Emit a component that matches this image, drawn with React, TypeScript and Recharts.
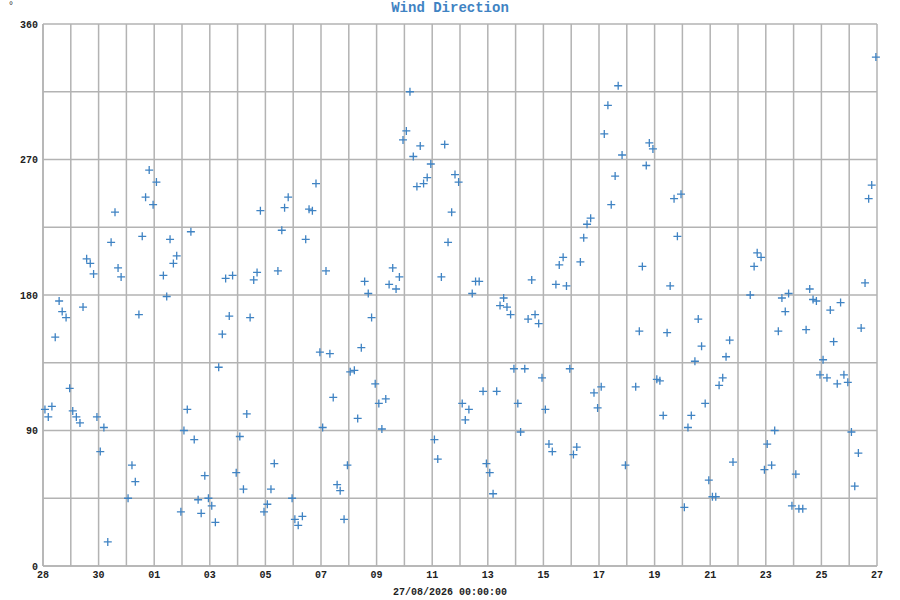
import { CartesianGrid, Scatter, ScatterChart, XAxis, YAxis } from 'recharts'

// days since 28/07 00:00 (roughly every 3 hours)
const dayOffsets = [
  0.07, 0.19, 0.32, 0.44, 0.58, 0.69, 0.83, 0.96, 1.07, 1.2,
  1.33, 1.44, 1.57, 1.7, 1.82, 1.94, 2.06, 2.19, 2.33, 2.45,
  2.59, 2.7, 2.81, 3.06, 3.2, 3.32, 3.45, 3.57, 3.69, 3.82,
  3.96, 4.08, 4.33, 4.45, 4.57, 4.69, 4.81, 4.96, 5.07, 5.19,
  5.32, 5.44, 5.58, 5.69, 5.82, 5.95, 6.07, 6.2, 6.32, 6.45,
  6.57, 6.7, 6.82, 6.95, 7.08, 7.21, 7.33, 7.45, 7.58, 7.7,
  7.82, 7.95, 8.07, 8.2, 8.32, 8.45, 8.59, 8.69, 8.82, 8.96,
  9.06, 9.18, 9.33, 9.45, 9.57, 9.69, 9.82, 9.96, 10.06, 10.18,
  10.32, 10.44, 10.58, 10.69, 10.83, 10.95, 11.05, 11.2, 11.32, 11.45,
  11.57, 11.7, 11.82, 11.95, 12.08, 12.19, 12.33, 12.45, 12.58, 12.7,
  12.82, 12.95, 13.07, 13.2, 13.32, 13.45, 13.57, 13.69, 13.82, 13.95,
  14.08, 14.2, 14.33, 14.45, 14.57, 14.7, 14.82, 14.95, 15.08, 15.19,
  15.32, 15.44, 15.56, 15.69, 15.83, 15.95, 16.07, 16.19, 16.32, 16.44,
  16.57, 16.69, 16.82, 16.94, 17.08, 17.18, 17.33, 17.45, 17.58, 17.7,
  17.83, 17.95, 18.07, 18.2, 18.32, 18.45, 18.57, 18.71, 18.83, 18.95,
  19.08, 19.2, 19.33, 19.45, 19.57, 19.7, 19.82, 19.95, 20.08, 20.19,
  20.32, 20.44, 20.58, 20.69, 20.83, 20.95, 21.32, 21.45, 21.56, 21.7,
  21.81, 21.94, 22.08, 22.19, 22.31, 22.45, 22.56, 22.7, 22.82, 22.95,
  23.07, 23.2, 23.32, 23.45, 23.57, 23.69, 23.82, 23.95, 24.08, 24.2,
  24.32, 24.45, 24.57, 24.7, 24.82, 25.44, 25.58, 25.69, 25.83, 25.95,
  26.05, 26.21, 26.32, 26.45, 26.58, 26.7, 26.82, 26.94, 27.08, 27.19,
  27.33, 27.45, 27.58, 27.7, 27.82, 27.95, 28.06, 28.2, 28.32, 28.44,
  28.57, 28.69, 28.81, 28.95, 29.08, 29.2, 29.33, 29.43, 29.57, 29.7,
  29.81, 29.96,
]

// wind direction in degrees
const directions = [
  104, 99, 106, 152, 176, 169, 165, 118, 103, 99,
  95, 172, 204, 201, 194, 99, 76, 92, 16, 215,
  235, 198, 192, 45, 67, 56, 167, 219, 245, 263,
  240, 255, 193, 179, 217, 201, 206, 36, 90, 104,
  222, 84, 44, 35, 60, 45, 40, 29, 132, 154,
  191, 166, 193, 62, 86, 51, 101, 165, 190, 195,
  236, 36, 41, 51, 68, 196, 223, 238, 245, 45,
  31, 27, 33, 217, 237, 236, 254, 142, 92, 196,
  141, 112, 54, 50, 31, 67, 129, 130, 98, 145,
  189, 181, 165, 121, 108, 91, 111, 187, 198, 184,
  192, 283, 289, 315, 272, 252, 279, 254, 258, 267,
  84, 71, 192, 280, 215, 235, 260, 255, 108, 97,
  104, 181, 189, 189, 116, 68, 62, 48, 116, 173,
  178, 172, 167, 131, 108, 89, 131, 164, 190, 167,
  161, 125, 104, 81, 76, 187, 200, 205, 186, 131,
  74, 79, 202, 218, 227, 231, 115, 105, 119, 287,
  306, 240, 259, 319, 273, 67, 119, 156, 199, 266,
  281, 277, 124, 123, 100, 155, 186, 244, 219, 247,
  39, 92, 100, 136, 164, 146, 108, 57, 46, 46,
  120, 125, 139, 150, 69, 180, 199, 208, 205, 64,
  81, 67, 90, 156, 178, 169, 181, 40, 61, 38,
  38, 157, 184, 177, 176, 127, 137, 125, 170, 149,
  121, 175, 127, 122, 89, 53, 75, 158, 188, 244,
  253, 338,
]

const dayLabels = [
  '28', '29', '30', '31', '01', '02', '03', '04', '05', '06', '07',
  '08', '09', '10', '11', '12', '13', '14', '15', '16', '17', '18',
  '19', '20', '21', '22', '23', '24', '25', '26', '27',
]
const directionTicks = [0, 45, 90, 135, 180, 225, 270, 315, 360]
const labelledDirections = [0, 90, 180, 270, 360]

const points = dayOffsets.map((day, i) => ({ day, direction: directions[i] }))
const dayTicks = dayLabels.map((_, i) => i)

const font = '"Liberation Mono", "DejaVu Sans Mono", monospace'
const blue = '#3f83c3'
const gridGray = '#b3b3b3'

const Cross = (props: any) => {
  const { cx, cy } = props
  if (cx == null || cy == null) return null
  return (
    <path
      d={`M${cx - 4},${cy}h8M${cx},${cy - 4}v8`}
      stroke={blue}
      strokeWidth={1.3}
      fill="none"
    />
  )
}

export default function App() {
  const tickStyle = { fontFamily: font, fontSize: 10, fontWeight: 700, fill: '#222' }
  return (
    <div style={{ position: 'relative', width: 900, height: 600, background: '#fff' }}>
      <style>{'body{margin:0}'}</style>
      <div
        style={{
          position: 'absolute', left: 0, top: 0, width: 900, textAlign: 'center',
          fontFamily: font, fontWeight: 700, fontSize: 14, color: blue, lineHeight: '16px',
        }}
      >
        Wind Direction
      </div>
      <div
        style={{
          position: 'absolute', left: 8, top: 1, fontFamily: font, fontSize: 10,
          color: '#333', lineHeight: '12px',
        }}
      >
        °
      </div>
      <div
        style={{
          position: 'absolute', left: 0, top: 586, width: 900, textAlign: 'center',
          fontFamily: font, fontWeight: 700, fontSize: 10, color: '#222', lineHeight: '14px',
        }}
      >
        27/08/2026 00:00:00
      </div>
      <ScatterChart width={900} height={600} margin={{ top: 24, right: 23, bottom: 0, left: 0 }}>
        <CartesianGrid stroke={gridGray} strokeWidth={1.5} />
        <XAxis
          type="number"
          dataKey="day"
          domain={[0, 30]}
          ticks={dayTicks}
          interval={0}
          tickFormatter={(v) => (v % 2 === 0 ? dayLabels[v] : '')}
          height={34}
          tickLine={false}
          tickSize={0}
          tickMargin={5}
          axisLine={{ stroke: gridGray, strokeWidth: 1.5 }}
          tick={tickStyle}
        />
        <YAxis
          type="number"
          dataKey="direction"
          domain={[0, 360]}
          ticks={directionTicks}
          interval={0}
          tickFormatter={(v) => (labelledDirections.includes(v) ? String(v) : '')}
          width={43}
          tickLine={false}
          tickSize={0}
          tickMargin={5}
          axisLine={{ stroke: gridGray, strokeWidth: 1.5 }}
          tick={tickStyle}
        />
        <Scatter data={points} shape={Cross} isAnimationActive={false} />
      </ScatterChart>
    </div>
  )
}
